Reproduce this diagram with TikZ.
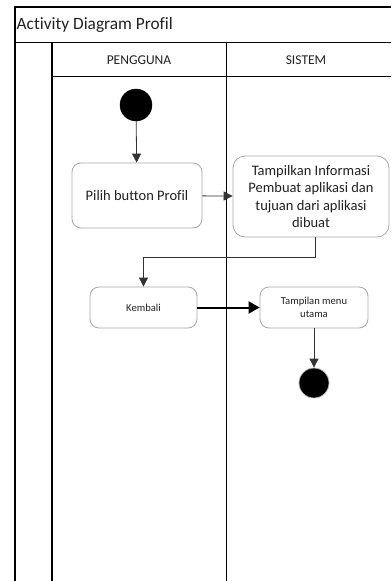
\documentclass[tikz,border=0pt]{standalone}
\usepackage{fontspec}
\setmainfont{Carlito}[Ligatures=CommonOff]
\usetikzlibrary{arrows.meta}
\definecolor{boxline}{HTML}{A8A8A8}
\definecolor{txt}{HTML}{222222}
\definecolor{conn}{HTML}{333333}
\tikzset{
  lane/.style={line width=1.2pt, draw=black},
  actbox/.style={draw=boxline, line width=0.8pt, fill=white, rounded corners=9pt, align=center, text=txt, inner sep=0pt},
  bigtext/.style={font=\fontsize{14.5}{17.3}\selectfont},
  smalltext/.style={font=\fontsize{10.6}{12.7}\selectfont},
  dot/.style={circle, fill=black, draw=black, inner sep=0pt},
  arr/.style={draw=conn, line width=0.8pt, -{Triangle[length=9pt,width=9pt]}},
  thickarr/.style={draw=black, line width=2pt, -{Triangle[length=11pt,width=12pt]}},
}
\begin{document}
\begin{tikzpicture}[x=1pt,y=-1pt]
\useasboundingbox (0,0) rectangle (391,581);
\fill[white] (0,0) rectangle (391,581);
% frame and swimlanes
\draw[lane] (15,581) -- (15,7) -- (391,7);
\draw[lane] (15,42.5) -- (391,42.5);
\draw[lane] (52,581) -- (52,42.5);
\draw[lane] (52,76.5) -- (391,76.5);
\draw[line width=1.6pt] (226.5,42.5) -- (226.5,581);
\node[anchor=west, text=txt, font=\fontsize{17.3}{20}\selectfont, inner sep=0pt] (title) at (16.5,24.5) {Activity Diagram Profil};
\node[text=txt, font=\fontsize{13.5}{16}\selectfont, inner sep=0pt] (pengguna) at (139,60) {PENGGUNA};
\node[text=txt, font=\fontsize{13.5}{16}\selectfont, inner sep=0pt] (sistem) at (306,60) {SISTEM};
% nodes
\node[dot, minimum size=32pt] (start) at (136,105) {};
\node[actbox, bigtext, minimum width=130pt, minimum height=65pt] (pilih) at (137,195.5) {Pilih button Profil};
\node[actbox, bigtext, rounded corners=12pt, minimum width=156pt, minimum height=81pt] (info) at (311,196.5) {Tampilkan Informasi\\Pembuat aplikasi dan\\tujuan dari aplikasi\\dibuat};
\node[actbox, smalltext, minimum width=107pt, minimum height=41pt] (kembali) at (143.5,307.5) {Kembali};
\node[actbox, smalltext, minimum width=108pt, minimum height=41pt] (menu) at (314,307.5) {Tampilan menu\\utama};
\node[dot, minimum size=30pt, draw=gray!60, line width=0.8pt] (end) at (314,383) {};
% connectors
\draw[arr] (start) -- (pilih);
\draw[arr] (pilih) -- (info);
\draw[arr] ([xshift=4pt]info.south) -- ++(0,20) -| (kembali.north);
\draw[thickarr] (kembali) -- (menu);
\draw[arr] (menu) -- (end);
\end{tikzpicture}
\end{document}
